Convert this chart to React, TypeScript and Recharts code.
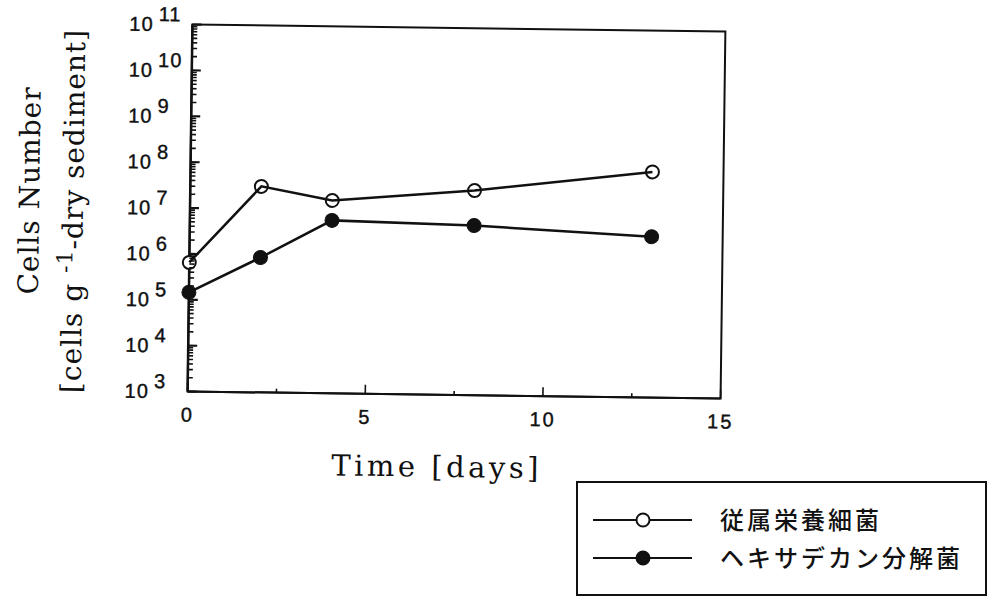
import React from 'react'
import { LineChart, Line, XAxis, YAxis, ReferenceArea, Legend, Label } from 'recharts'

// sampling days and cell counts (cells per g dry sediment)
const days = [0, 2, 4, 8, 13]
const heterotrophs = [6.5e5, 3.1e7, 1.6e7, 2.9e7, 8.3e7]
const hexadecaneDegraders = [1.45e5, 8.7e5, 5.9e6, 5.0e6, 3.2e6]
const seriesNames = ['従属栄養細菌', 'ヘキサデカン分解菌']

const xTicks = [0, 2.5, 5, 7.5, 10, 12.5, 15]
const decades = [3, 4, 5, 6, 7, 8, 9, 10, 11]
const mantissas = [1, 2, 3, 4, 5, 6, 7, 8, 9]
const yTicks = decades.flatMap(e => (e === 11 ? [10 ** e] : mantissas.map(m => m * 10 ** e)))

const data = days.map((d, i) => ({ day: d, het: heterotrophs[i], deg: hexadecaneDegraders[i] }))

const INK = '#111'
const TICK_FONT = "'Liberation Sans', Arial, sans-serif"
const TITLE_FONT = "'DejaVu Serif', serif"

function YTick({ x, y, payload }: any) {
  const lg = Math.log10(payload.value)
  const exp = Math.round(lg)
  const major = Math.abs(lg - exp) < 1e-9
  return (
    <g>
      <line x1={x} x2={x + (major ? 9 : 5)} y1={y} y2={y} stroke={INK} strokeWidth={major ? 2.2 : 1.6} />
      {major && (
        <text x={x - 63} y={y + 7} fontFamily={TICK_FONT} fontSize={20} fill={INK} stroke={INK} strokeWidth={0.4} letterSpacing={1}>
          10<tspan dx={5} dy={-10}>{exp}</tspan>
        </text>
      )}
    </g>
  )
}

function XTick({ x, y, payload }: any) {
  const major = payload.value % 5 === 0
  return (
    <g>
      <line x1={x} x2={x} y1={y} y2={y - (major ? 9 : 4)} stroke={INK} strokeWidth={1.6} />
      {major && (
        <text x={x} y={y + 30} textAnchor="middle" fontFamily={TICK_FONT} fontSize={20} fill={INK} stroke={INK} strokeWidth={0.4} letterSpacing={2}>
          {payload.value}
        </text>
      )}
    </g>
  )
}

function YTitle() {
  return (
    <g fontFamily={TITLE_FONT} fontSize={28} fill={INK}>
      <text transform="translate(39,196) rotate(-90)" textAnchor="middle" letterSpacing={1}>Cells Number</text>
      <text transform="translate(83,216) rotate(-90)" textAnchor="middle" letterSpacing={1}>
        [cells g <tspan dy={-10} fontSize={22}>-1</tspan>
        <tspan dy={10}>-dry sediment]</tspan>
      </text>
    </g>
  )
}

function XTitle() {
  return (
    <text x={440} y={477} textAnchor="middle" fontFamily={TITLE_FONT} fontSize={29} fill={INK} letterSpacing={3.5}>
      Time [days]
    </text>
  )
}

function LegendBox({ payload }: any) {
  return (
    <svg width={412} height={116}>
      <rect x={1} y={1} width={409} height={113} fill="#fff" stroke={INK} strokeWidth={2} />
      {(payload || []).map((p: any, i: number) => {
        const cy = 39 + i * 38
        const open = p.dataKey === 'het'
        return (
          <g key={p.value}>
            <line x1={17} x2={116} y1={cy} y2={cy} stroke={INK} strokeWidth={2} />
            <circle cx={67} cy={cy} r={6.5} fill={open ? '#fff' : INK} stroke={INK} strokeWidth={2} />
            <text x={144} y={cy + 9} fontFamily="'Noto Sans CJK JP', sans-serif" fontSize={24} fontWeight={500} fill={INK} letterSpacing={3}>
              {p.value}
            </text>
          </g>
        )
      })}
    </svg>
  )
}

export default function App() {
  return (
    <div className="tilted" style={{ position: 'absolute', left: 0, top: 0, background: '#fff' }}>
      <style>{`.tilted .recharts-surface { transform: rotate(0.75deg); transform-origin: 457px 211px; overflow: visible; }`}</style>
      <LineChart width={989} height={597} data={data} margin={{ top: 28, right: 266, bottom: 162, left: 130 }}>
        <XAxis
          dataKey="day"
          type="number"
          domain={[0, 15]}
          ticks={xTicks}
          interval={0}
          tick={XTick}
          tickLine={false}
          tickSize={0}
          tickMargin={0}
          height={40}
          axisLine={{ stroke: INK, strokeWidth: 2 }}
        >
          <Label content={XTitle} />
        </XAxis>
        <YAxis
          type="number"
          scale="log"
          domain={[1e3, 1e11]}
          ticks={yTicks}
          interval={0}
          tick={YTick}
          tickLine={false}
          tickSize={0}
          tickMargin={0}
          width={60}
          axisLine={{ stroke: INK, strokeWidth: 2.5 }}
        >
          <Label content={YTitle} />
        </YAxis>
        <ReferenceArea x1={0} x2={15} y1={1e3} y2={1e11} fill="none" stroke={INK} strokeWidth={2} />
        <Legend
          layout="horizontal"
          verticalAlign="middle"
          content={LegendBox}
          itemSorter={(item: any) => seriesNames.indexOf(item.value)}
          wrapperStyle={{ position: 'absolute', left: 576, top: 481, width: 412, height: 116 }}
        />
        <Line
          dataKey="het"
          name={seriesNames[0]}
          type="linear"
          stroke={INK}
          strokeWidth={2.5}
          dot={{ r: 6.5, fill: '#fff', stroke: INK, strokeWidth: 2 }}
          zIndex={1000}
          isAnimationActive={false}
        />
        <Line
          dataKey="deg"
          name={seriesNames[1]}
          type="linear"
          stroke={INK}
          strokeWidth={2.5}
          dot={{ r: 7, fill: INK, stroke: INK, strokeWidth: 1 }}
          zIndex={1000}
          isAnimationActive={false}
        />
      </LineChart>
    </div>
  )
}
